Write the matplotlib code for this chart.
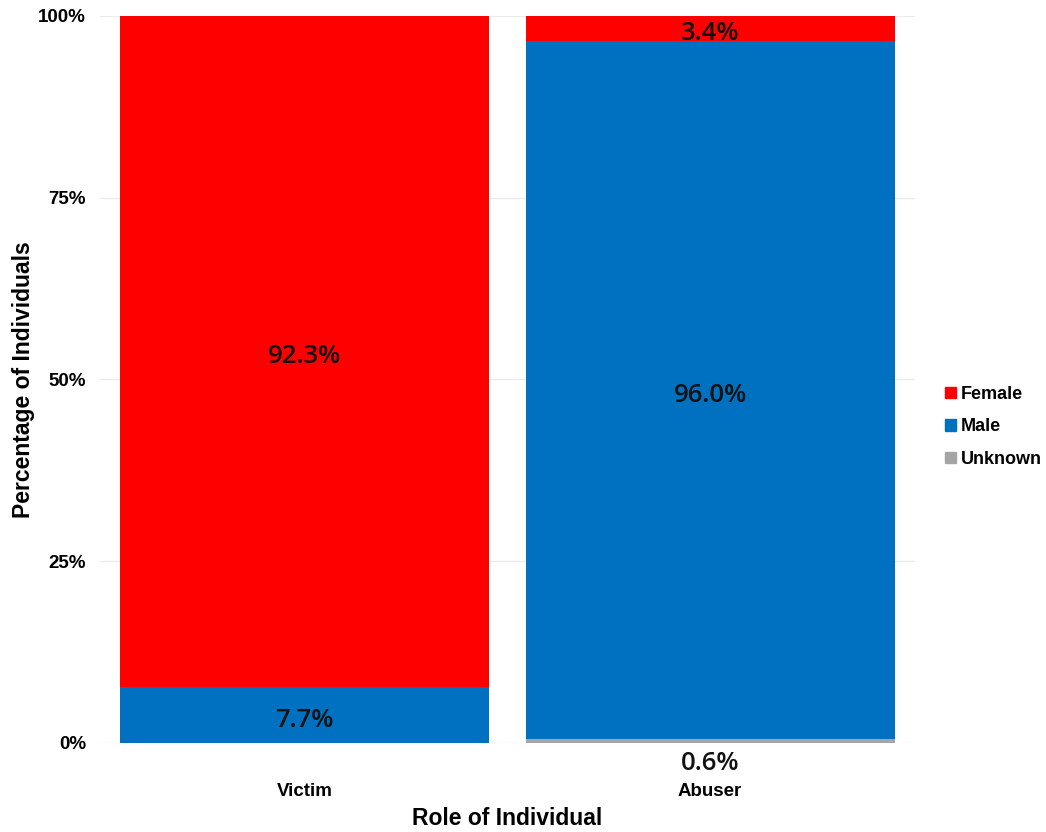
import numpy as np
import matplotlib.pyplot as plt
from matplotlib.patches import Patch

roles = ["Victim", "Abuser"]
series = ["Unknown", "Male", "Female"]  # bottom to top
unknown = [0.0, 0.6]
male = [7.7, 96.0]
female = [92.3, 3.4]
colors = {"Female": "#FF0000", "Male": "#0070C0", "Unknown": "#A5A5A5"}
yticks = [0, 25, 50, 75, 100]

fig = plt.figure(figsize=(10.46, 8.32), dpi=100)
ax = fig.add_axes([0.0956, 0.107, 0.779, 0.874])

x = np.arange(len(roles))
bottom = np.zeros(len(roles))
label_font = dict(family=["Open Sans", "DejaVu Sans"], fontsize=18.5,
                  fontweight="semibold", color="#111111")
for name, vals in zip(series, [unknown, male, female]):
    vals = np.array(vals)
    ax.bar(x, vals, width=0.91, bottom=bottom, color=colors[name], zorder=2)
    for xi, b, v in zip(x, bottom, vals):
        if v <= 0:
            continue
        # tiny segments get their label just below the axis
        dy = -16 if v < 2 else -4
        ax.annotate(f"{v:.1f}%", (xi, b + v / 2), xytext=(0, dy),
                    textcoords="offset points", ha="center", va="center",
                    **label_font)
    bottom += vals

ax.set_xlim(-0.505, 1.505)
ax.set_ylim(0, 100)
ax.set_yticks(yticks)
ax.set_yticklabels([f"{t}%" for t in yticks])
ax.set_xticks(x)
ax.set_xticklabels(roles)
ax.yaxis.grid(True, color="#EBEBEB", linewidth=1, zorder=0)
ax.set_axisbelow(True)
for s in ax.spines.values():
    s.set_visible(False)
ax.tick_params(length=0, labelsize=13.5)
for lab in ax.get_xticklabels() + ax.get_yticklabels():
    lab.set_fontfamily("Liberation Sans")
    lab.set_fontweight("bold")
ax.tick_params(axis="x", pad=29)
ax.tick_params(axis="y", pad=10)

ax.set_xlabel("Role of Individual", fontsize=16.5, fontweight="bold",
              family="Liberation Sans", labelpad=5)
ax.set_ylabel("Percentage of Individuals", fontsize=16.5, fontweight="bold",
              family="Liberation Sans", labelpad=2)

handles = [Patch(color=colors[n], label=n) for n in ["Female", "Male", "Unknown"]]
fig.legend(handles=handles, loc="center left", bbox_to_anchor=(0.888, 0.487),
           frameon=False, handlelength=0.6, handleheight=0.6, handletextpad=0.25,
           labelspacing=0.85, prop=dict(family="Liberation Sans", weight="bold", size=13))

fig.savefig("out.png", dpi=100)
